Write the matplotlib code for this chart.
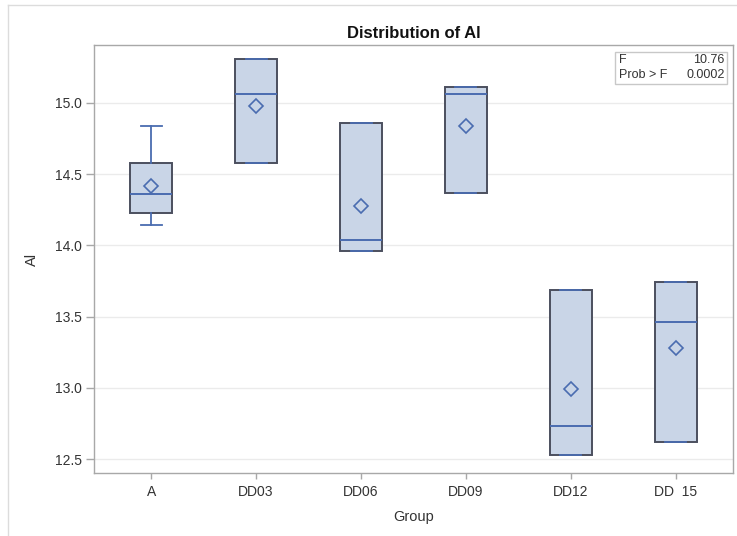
import matplotlib
matplotlib.use("Agg")
import matplotlib.pyplot as plt
from matplotlib.lines import Line2D
from matplotlib.patches import Rectangle

plt.rcParams['font.family'] = ['Liberation Sans', 'DejaVu Sans']

# Al by group: box statistics and group means
groups = ['A', 'DD03', 'DD06', 'DD09', 'DD12', 'DD  15']
whis_lo = [14.14, 14.58, 13.96, 14.37, 12.53, 12.62]
q1 = [14.23, 14.58, 13.96, 14.37, 12.53, 12.62]
medians = [14.36, 15.06, 14.04, 15.06, 12.73, 13.46]
q3 = [14.58, 15.31, 14.86, 15.11, 13.69, 13.74]
whis_hi = [14.84, 15.31, 14.86, 15.11, 13.69, 13.74]
means = [14.42, 14.98, 14.28, 14.84, 12.99, 13.28]

f_value = '10.76'
prob_f = '0.0002'

yticks = [12.5, 13.0, 13.5, 14.0, 14.5, 15.0]

fill = '#c9d5e7'
edge = '#4b4f5e'
blue = '#4a6cb0'
grid_c = '#ebebeb'
axis_c = '#a8a8a8'
text_c = '#333333'

fig = plt.figure(figsize=(7.37, 5.36), dpi=100)
ax = fig.add_axes([94 / 737, 1 - 473 / 536, 639 / 737, 428 / 536])

stats = []
for i in range(len(groups)):
    stats.append({'label': groups[i], 'whislo': whis_lo[i], 'q1': q1[i],
                  'med': medians[i], 'q3': q3[i], 'whishi': whis_hi[i],
                  'mean': means[i]})

ax.bxp(stats, positions=range(len(groups)), widths=0.4, capwidths=0.2,
       showmeans=True, showfliers=False, patch_artist=True,
       boxprops=dict(facecolor=fill, edgecolor=edge, linewidth=1.4),
       medianprops=dict(color=blue, linewidth=1.4),
       whiskerprops=dict(color=blue, linewidth=1.3),
       capprops=dict(color=blue, linewidth=1.3),
       meanprops=dict(marker='D', markersize=7, markerfacecolor=fill,
                      markeredgecolor=blue, markeredgewidth=1.2))

ax.set_xlim(-0.545, 5.545)
ax.set_ylim(12.402, 15.407)
ax.set_yticks(yticks)
ax.set_yticklabels([f'{v:.1f}' for v in yticks])
ax.set_axisbelow(True)
ax.yaxis.grid(True, color=grid_c, linewidth=1.0)

for side in ['top', 'right', 'left', 'bottom']:
    ax.spines[side].set_color(axis_c)
    ax.spines[side].set_linewidth(1.0)
ax.tick_params(axis='both', colors=axis_c, labelcolor=text_c, labelsize=10,
               width=1.0)
ax.tick_params(axis='y', length=5.5, pad=3)
ax.tick_params(axis='x', length=4.5, pad=4)

ax.set_xlabel('Group', fontsize=10.5, color=text_c, labelpad=8)
ax.set_ylabel('Al', fontsize=10.5, color=text_c, labelpad=12)
ax.set_title('Distribution of Al', fontsize=12, fontweight='bold',
             color='#111111', pad=5)

# F statistic inset
ax.add_patch(Rectangle((0.815, 0.909), 0.176, 0.075, transform=ax.transAxes,
                       facecolor='white', edgecolor='#c8c8c8', linewidth=1.0,
                       zorder=5))
ax.text(0.822, 0.964, 'F', transform=ax.transAxes, fontsize=9, color=text_c,
        va='center', ha='left', zorder=6)
ax.text(0.987, 0.964, f_value, transform=ax.transAxes, fontsize=9,
        color=text_c, va='center', ha='right', zorder=6)
ax.text(0.822, 0.929, 'Prob > F', transform=ax.transAxes, fontsize=9,
        color=text_c, va='center', ha='left', zorder=6)
ax.text(0.987, 0.929, prob_f, transform=ax.transAxes, fontsize=9,
        color=text_c, va='center', ha='right', zorder=6)

# light outer border of the graph area
fig.add_artist(Line2D([8 / 737, 8 / 737], [0, 1 - 5 / 536],
                      color='#dcdcdc', linewidth=1.0))
fig.add_artist(Line2D([8 / 737, 1], [1 - 5 / 536, 1 - 5 / 536],
                      color='#dcdcdc', linewidth=1.0))

fig.savefig('out.png', dpi=100, facecolor='white')
